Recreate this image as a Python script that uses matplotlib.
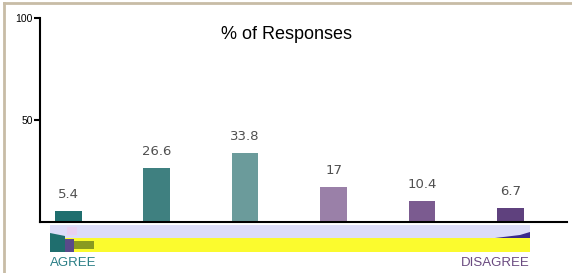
import matplotlib.pyplot as plt
import matplotlib.patches as mpatches
from matplotlib.lines import Line2D
import numpy as np

plt.rcParams['font.family'] = ['Liberation Sans', 'DejaVu Sans']

# survey results, agree -> disagree
categories = ["1", "2", "3", "4", "5", "6"]
values = [5.4, 26.6, 33.8, 17, 10.4, 6.7]
value_labels = ["5.4", "26.6", "33.8", "17", "10.4", "6.7"]
bar_colors = ["#1f6e6e", "#3f8080", "#6b9b9b", "#9a80a8", "#7b5b90", "#5f417e"]

W, H = 572, 273
fig = plt.figure(figsize=(W / 100, H / 100), dpi=100)

# main axes (pixel positions from the reference)
ax = fig.add_axes([40 / W, 1 - 222 / H, (567 - 40) / W, (222 - 18) / H])
x = np.arange(len(values))
ax.bar(x, values, width=0.3, color=bar_colors)
for xi, v, lab in zip(x, values, value_labels):
    ax.annotate(lab, (xi, v), xytext=(0, 12), textcoords="offset points",
                ha="center", va="center", fontsize=9.5, color="#505050",
                family="DejaVu Sans")

ax.set_xlim(-0.32, 5.64)
ax.set_ylim(0, 100)
ax.set_yticks([50, 100])
ax.set_yticklabels(["50", "100"], fontsize=7.5)
ax.set_xticks([])
for s in ["top", "right"]:
    ax.spines[s].set_visible(False)
ax.spines["left"].set_linewidth(1.5)
ax.spines["bottom"].set_linewidth(1.5)
ax.tick_params(axis="y", direction="out", length=4, width=1.5, pad=1)
ax.text(0.467, 0.92, "% of Responses", transform=ax.transAxes,
        ha="center", va="center", fontsize=13, color="black")

# agree/disagree scale strip under the axis
sx = fig.add_axes([50 / W, 1 - 252 / H, (530 - 50) / W, (252 - 225) / H])
sx.set_xlim(0, 480)
sx.set_ylim(27, 0)
sx.axis("off")
sx.add_patch(mpatches.Rectangle((0, 0), 480, 13, color="#dcdcf8", lw=0))
sx.add_patch(mpatches.Rectangle((0, 13), 480, 14, color="#fbfb2e", lw=0))
sx.add_patch(mpatches.Polygon([[0, 8], [15, 11], [15, 27], [0, 27]],
                              closed=True, color="#1f6e6e", lw=0))
sx.add_patch(mpatches.Rectangle((15, 14), 9, 13, color="#5a4a8a", lw=0))
sx.add_patch(mpatches.Rectangle((24, 16), 20, 8, color="#8a9a20", lw=0))
sx.add_patch(mpatches.Rectangle((17, 2), 10, 8, color="#e8d0f0", lw=0))
sx.add_patch(mpatches.Polygon([[445, 13], [470, 10], [480, 7], [480, 13]],
                              closed=True, color="#3a2a8a", lw=0))

fig.text(50 / W, 1 - 263 / H, "AGREE", ha="left", va="center",
         fontsize=9.5, color="#2a7f86")
fig.text(530 / W, 1 - 263 / H, "DISAGREE", ha="right", va="center",
         fontsize=9.5, color="#6a4a80")

# tan frame on left and top
fig.add_artist(Line2D([4 / W, 4 / W], [0, 1 - 3 / H], color="#c8bca6", lw=2))
fig.add_artist(Line2D([4 / W, 1], [1 - 3 / H, 1 - 3 / H], color="#c8bca6", lw=2))

fig.savefig("out.png", dpi=100)
